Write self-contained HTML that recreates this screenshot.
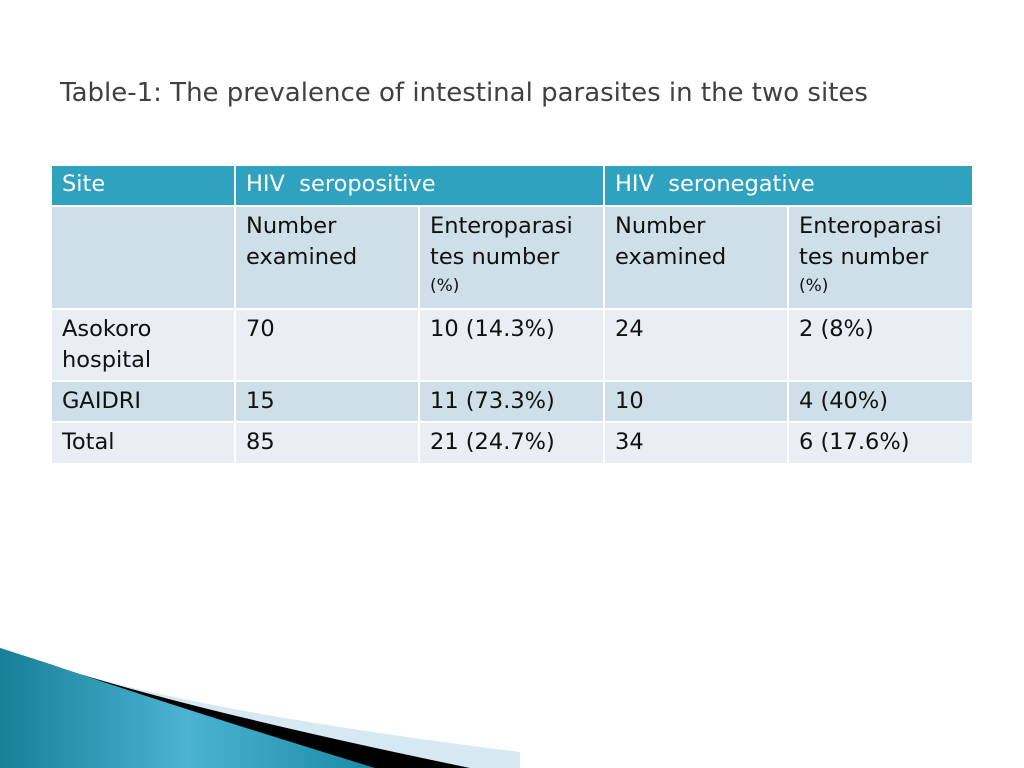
<!DOCTYPE html>
<html><head><meta charset="utf-8"><style>
body{margin:0;width:1024px;height:768px;background:#fff;position:relative;overflow:hidden;font-family:"DejaVu Sans","Liberation Sans",sans-serif;}
#title{position:absolute;left:60px;top:78px;font-size:26px;color:#404040;}
.c{position:absolute;box-sizing:border-box;padding:4px 10px;font-size:22.5px;line-height:31px;color:#111;white-space:nowrap;}
.h{background:#2ea2bf;color:#fff;}
.d{background:#cedfe9;}
.l{background:#e8eef3;}
small{font-size:17px;display:block;line-height:26px;}
</style></head><body>
<div id="title">Table-1: The prevalence of intestinal parasites in the two sites</div>
<div>
<div class="c h" style="left:52px;top:166px;width:182px;height:39px;padding-top:3px">Site</div>
<div class="c h" style="left:236px;top:166px;width:367px;height:39px;padding-top:3px">HIV&nbsp; seropositive</div>
<div class="c h" style="left:605px;top:166px;width:367px;height:39px;padding-top:3px">HIV&nbsp; seronegative</div>

<div class="c d" style="left:52px;top:207px;width:182px;height:101px"></div>
<div class="c d" style="left:236px;top:207px;width:182px;height:101px">Number<br>examined</div>
<div class="c d" style="left:420px;top:207px;width:183px;height:101px">Enteroparasi<br>tes number<small>(%)</small></div>
<div class="c d" style="left:605px;top:207px;width:182px;height:101px">Number<br>examined</div>
<div class="c d" style="left:789px;top:207px;width:183px;height:101px">Enteroparasi<br>tes number<small>(%)</small></div>

<div class="c l" style="left:52px;top:310px;width:182px;height:70px">Asokoro<br>hospital</div>
<div class="c l" style="left:236px;top:310px;width:182px;height:70px">70</div>
<div class="c l" style="left:420px;top:310px;width:183px;height:70px">10 (14.3%)</div>
<div class="c l" style="left:605px;top:310px;width:182px;height:70px">24</div>
<div class="c l" style="left:789px;top:310px;width:183px;height:70px">2 (8%)</div>

<div class="c d" style="left:52px;top:382px;width:182px;height:39px">GAIDRI</div>
<div class="c d" style="left:236px;top:382px;width:182px;height:39px">15</div>
<div class="c d" style="left:420px;top:382px;width:183px;height:39px">11 (73.3%)</div>
<div class="c d" style="left:605px;top:382px;width:182px;height:39px">10</div>
<div class="c d" style="left:789px;top:382px;width:183px;height:39px">4 (40%)</div>

<div class="c l" style="left:52px;top:423px;width:182px;height:40px">Total</div>
<div class="c l" style="left:236px;top:423px;width:182px;height:40px">85</div>
<div class="c l" style="left:420px;top:423px;width:183px;height:40px">21 (24.7%)</div>
<div class="c l" style="left:605px;top:423px;width:182px;height:40px">34</div>
<div class="c l" style="left:789px;top:423px;width:183px;height:40px">6 (17.6%)</div>
</div>
<svg style="position:absolute;left:0;top:0" width="1024" height="768">
<defs><linearGradient id="g" x1="0" y1="0" x2="1" y2="0"><stop offset="0" stop-color="#177f98"/><stop offset="0.5" stop-color="#4cb3d2"/><stop offset="1" stop-color="#1a8aa6"/></linearGradient></defs>
<path d="M0,648 L60,668 Q200,712 520,752 L520,768 L0,768 Z" fill="#d6e8f1"/>
<path d="M0,648 L60,668 Q200,712 470,768 L0,768 Z" fill="#000"/>
<path d="M0,648 L50,664 Q170,705 375,768 L0,768 Z" fill="url(#g)"/>
</svg>
</body></html>
